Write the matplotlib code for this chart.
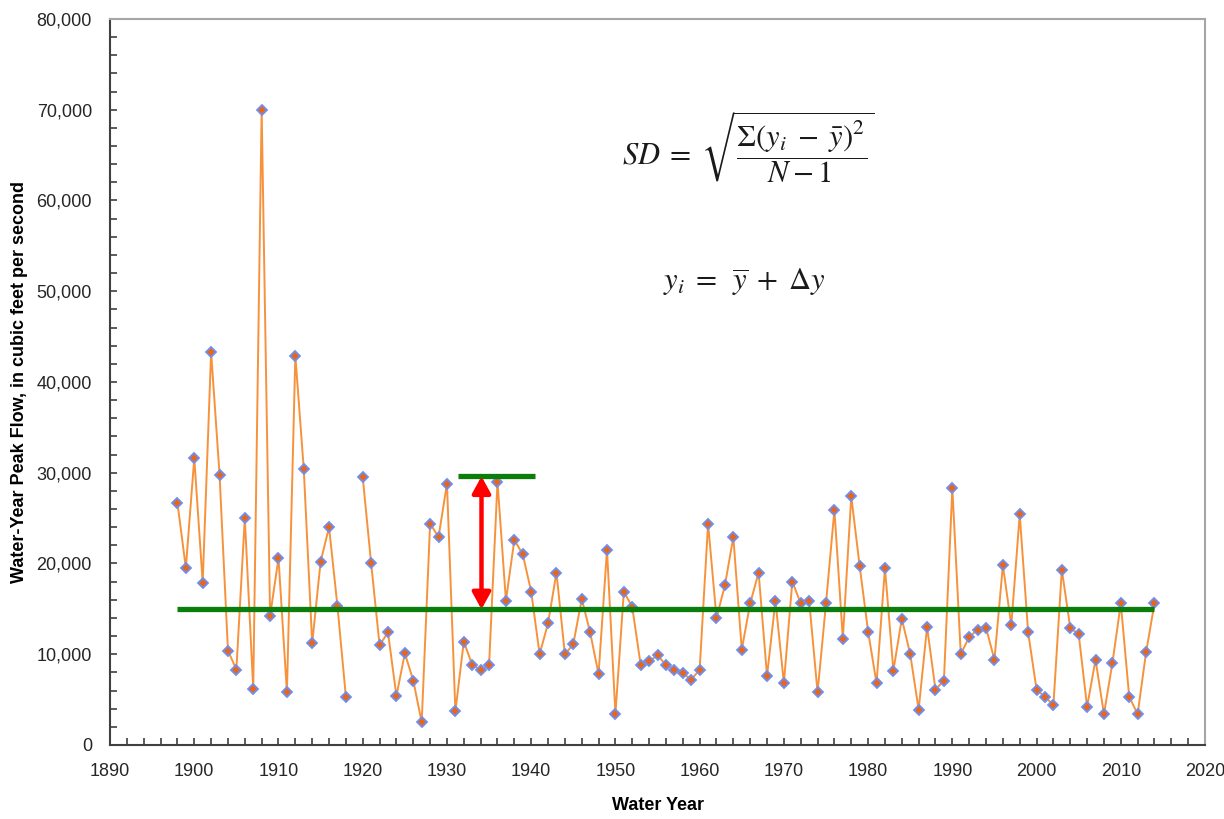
import numpy as np
import matplotlib
matplotlib.use('Agg')
import matplotlib.pyplot as plt
from matplotlib.ticker import MultipleLocator, FuncFormatter

# water-year peak flow, cfs (1919 has no record)
years = list(range(1898, 2015))
peak_flow = [
    26700, 19500, 31600, 17900, 43300, 29800, 10400, 8300, 25000, 6200,
    70000, 14200, 20600, 5800, 42900, 30400, 11200, 20200, 24000, 15300,
    5300, np.nan, 29500, 20000, 11000, 12400, 5400, 10100, 7100, 2500,
    24400, 22900, 28800, 3700, 11400, 8800, 8300, 8800, 29000, 15900,
    22600, 21000, 16900, 10000, 13400, 19000, 10000, 11100, 16100, 12400,
    7800, 21500, 3400, 16900, 15200, 8800, 9200, 9900, 8800, 8300,
    7900, 7200, 8300, 24400, 14000, 17600, 22900, 10500, 15600, 19000,
    7600, 15900, 6800, 18000, 15600, 15900, 5800, 15600, 25900, 11700,
    27400, 19700, 12500, 6800, 19500, 8200, 13900, 10000, 3900, 13000,
    6100, 7100, 28300, 10000, 11900, 12700, 12900, 9400, 19800, 13200,
    25400, 12400, 6100, 5300, 4400, 19300, 12900, 12200, 4200, 9400,
    3400, 9000, 15600, 5300, 3400, 10200, 15600,
]

mean_flow = 14950
mean_span = [1898, 2014]
example_year = 1934.1
example_flow = 29600
example_span = [1931.3, 1940.5]

plt.rcParams['font.family'] = ['Liberation Sans', 'DejaVu Sans']
plt.rcParams['mathtext.fontset'] = 'stix'

fig = plt.figure(figsize=(12.24, 8.19), dpi=100)
ax = fig.add_axes([0.0899, 0.0904, 0.8946, 0.8864])

ax.plot(years, peak_flow, '-', color='#f7923c', lw=1.4, zorder=3)
ax.plot(years, peak_flow, 'D', ms=5.5, mfc='#e8661a', mec='#6f8ff0',
        mew=1.3, zorder=4)

ax.plot(mean_span, [mean_flow, mean_flow], color='#0a7d0a', lw=3.8,
        solid_capstyle='butt', zorder=5)
ax.plot(example_span, [example_flow, example_flow], color='#0a7d0a', lw=3.8,
        solid_capstyle='butt', zorder=5)
ax.annotate('', xy=(example_year, example_flow), xytext=(example_year, mean_flow),
            arrowprops=dict(arrowstyle='<|-|>,head_length=0.4,head_width=0.22',
                            color='#ff0000', lw=3.2, mutation_scale=25,
                            shrinkA=0, shrinkB=0), zorder=6)

ax.set_xlim(1890, 2020)
ax.set_ylim(0, 80000)
ax.xaxis.set_major_locator(MultipleLocator(10))
ax.xaxis.set_minor_locator(MultipleLocator(2))
ax.yaxis.set_major_locator(MultipleLocator(10000))
ax.yaxis.set_minor_locator(MultipleLocator(2000))
ax.yaxis.set_major_formatter(FuncFormatter(lambda v, p: f'{int(v):,}'))

for side in ['top', 'right']:
    ax.spines[side].set_color('#a6a6a6')
    ax.spines[side].set_linewidth(1.5)
for side in ['left', 'bottom']:
    ax.spines[side].set_color('#404040')
    ax.spines[side].set_linewidth(1.5)

ax.tick_params(which='both', direction='in', length=5, width=1.2,
               color='#404040', top=False, right=False)
ax.tick_params(which='major', labelsize=13, labelcolor='#262626')
ax.tick_params(axis='y', which='major', pad=13)
ax.tick_params(axis='x', which='major', pad=13)

ax.set_xlabel('Water Year', fontsize=13, fontweight='bold', va='center')
ax.set_ylabel('Water-Year Peak Flow, in cubic feet per second', fontsize=13,
              fontweight='bold', va='center')
ax.xaxis.set_label_coords(0.5, -0.084)
ax.yaxis.set_label_coords(-0.083, 0.5)

fig.text(0.611, 0.82, r'$SD\;=\;\sqrt{\dfrac{\Sigma(y_i\;-\;\bar{y})^2}{N-1}}$',
         fontsize=22, ha='center', va='center', color='#1a1a1a')
fig.text(0.608, 0.655, r'$y_i\;=\;\;\overline{y}\;+\;\Delta y$',
         fontsize=22, ha='center', va='center', color='#1a1a1a')

fig.savefig('out.png', dpi=100, facecolor='white')
